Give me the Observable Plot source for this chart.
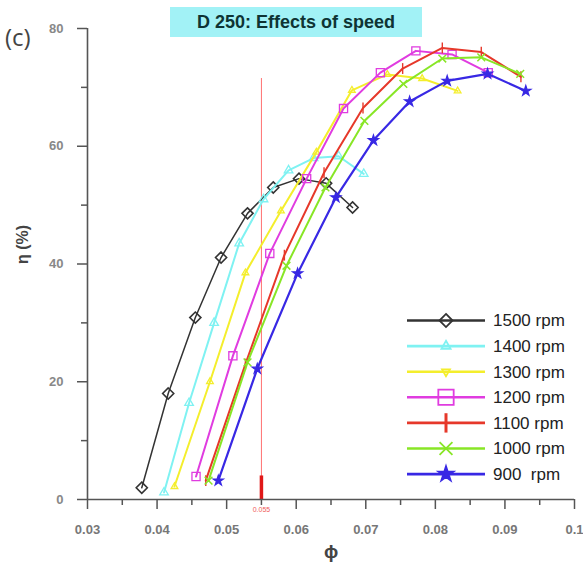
<!DOCTYPE html>
<html><head><meta charset="utf-8">
<script src="https://cdn.jsdelivr.net/npm/d3@7"></script>
<script src="https://cdn.jsdelivr.net/npm/@observablehq/plot@0.6"></script>
<style>
body{margin:0;background:#fff;font-family:Arial,"Liberation Sans",sans-serif;}
#wrap{position:relative;width:583px;height:579px;overflow:hidden;}
#title{position:absolute;left:170px;top:7px;width:252px;height:30px;background:#a2f2f6;color:#0e3434;font:bold 18px Arial,"Liberation Sans",sans-serif;line-height:30px;text-align:center;white-space:nowrap;}
#tag{position:absolute;left:5px;top:20px;font:24px "Open Sans",Arial,sans-serif;color:#444;}
#legend{position:absolute;left:0;top:0;pointer-events:none;}
</style></head>
<body><div id="wrap"><div id="chart"></div><div id="title">D 250: Effects of speed</div><div id="tag">(c)</div><svg id="legend" width="583" height="579"></svg></div>
<script>
const speeds = ["1500 rpm","1400 rpm","1300 rpm","1200 rpm","1100 rpm","1000 rpm","900  rpm"];
const colors = ["#333333","#7ff2f2","#f4ee2c","#e03ce0","#e6382a","#88e626","#3828e4"];
const symbols = ["diamond2","triangle","triangle2","square","bar","times","star"];

const phi1500 = [0.0378,0.0416,0.0455,0.0492,0.0530,0.0567,0.0604,0.0643,0.0681];
const eta1500 = [2.0,18.0,30.9,41.1,48.6,53.0,54.5,53.7,49.6];
const phi1400 = [0.0410,0.0446,0.0482,0.0518,0.0553,0.0589,0.0625,0.0661,0.0697];
const eta1400 = [1.2,16.4,30.0,43.5,51.0,55.9,58.0,58.3,55.3];
const phi1300 = [0.0425,0.0476,0.0527,0.0578,0.0629,0.0680,0.0731,0.0781,0.0832];
const eta1300 = [2.2,20.0,38.5,49.0,59.0,69.5,72.2,71.5,69.4];
const phi1200 = [0.0456,0.0509,0.0562,0.0615,0.0668,0.0721,0.0772,0.0824,0.0876];
const eta1200 = [3.9,24.4,41.8,54.5,66.4,72.5,76.2,75.6,72.5];
const phi1100 = [0.0470,0.0527,0.0583,0.0640,0.0696,0.0753,0.0810,0.0866,0.0923];
const eta1100 = [3.2,23.0,41.5,55.5,66.5,73.2,76.7,76.0,71.8];
const phi1000 = [0.0474,0.0530,0.0586,0.0642,0.0698,0.0754,0.0810,0.0866,0.0922];
const eta1000 = [3.2,23.3,39.7,53.0,64.3,70.6,74.9,75.1,72.3];
const phi900  = [0.0488,0.0544,0.0602,0.0657,0.0711,0.0763,0.0817,0.0875,0.0930];
const eta900  = [3.2,22.2,38.4,51.3,61.0,67.6,71.1,72.3,69.4];

const xTicks = [0.03,0.04,0.05,0.06,0.07,0.08,0.09,0.1];
const xMinor = [0.035,0.045,0.055,0.065,0.075,0.085,0.095];
const yTicks = [0,20,40,60,80];
const yMinor = [10,30,50,70];
const refPhi = [0.055];
const refTop = 71.5;
const refMark = 4;

const phis = [phi1500,phi1400,phi1300,phi1200,phi1100,phi1000,phi900];
const etas = [eta1500,eta1400,eta1300,eta1200,eta1100,eta1000,eta900];

const barSymbol = {draw(ctx, size){ const h = Math.sqrt(size)*0.85; ctx.moveTo(0,-h); ctx.lineTo(0,h); }};
const symOf = s => s === "bar" ? barSymbol : s;

const series = speeds.map((name,i)=>phis[i].map((p,j)=>({name, phi:p, eta:etas[i][j]})));

const marks = [];
marks.push(Plot.ruleX(refPhi, {y1:0, y2:refTop, stroke:"#ff4c4c", strokeWidth:1, strokeOpacity:0.8}));
marks.push(Plot.ruleX(refPhi, {y1:0, y2:refMark, stroke:"#e01818", strokeWidth:3.5}));
marks.push(Plot.text(refPhi, {x:d=>d, y:0, text:d=>String(d), dy:10, fontSize:7, fill:"#f05a5a"}));

const widths = [1.5,2,2,2,2,2,2.2];
const sizes = [5,3.2,3.2,4.6,3.6,3.6,3.2];
const dotW = [1.6,1.3,1.3,1.3,1.4,1.5,1.2];
series.forEach((rows,i)=>{
  marks.push(Plot.line(rows,{x:"phi",y:"eta",stroke:colors[i],strokeWidth:widths[i]}));
  const s = symbols[i];
  const filled = (s==="star");
  marks.push(Plot.dot(rows,{x:"phi",y:"eta",symbol:symOf(s),r:sizes[i],stroke:colors[i],strokeWidth:dotW[i],fill:filled?colors[i]:"none"}));
});

marks.push(Plot.ruleY([0],{x1:xTicks[0],x2:xTicks[xTicks.length-1],stroke:"#555",strokeWidth:1.6}));
marks.push(Plot.ruleX([xTicks[0]],{y1:yTicks[0],y2:yTicks[yTicks.length-1],stroke:"#555",strokeWidth:1.6}));
marks.push(Plot.axisX(xTicks,{tickSize:10,tickPadding:15,fontSize:13,fontWeight:"bold",stroke:"#555",fill:"#777",strokeWidth:1.5,tickFormat:d=>String(d),label:null}));
marks.push(Plot.axisX(xMinor,{tickSize:6,stroke:"#555",strokeWidth:1.5,tickFormat:()=>"",label:null}));
marks.push(Plot.axisY(yTicks,{tickSize:10,tickPadding:14,fontSize:13,fontWeight:"bold",stroke:"#555",fill:"#888",strokeWidth:1.5,tickFormat:d=>String(d),label:null}));
marks.push(Plot.axisY(yMinor,{tickSize:6,stroke:"#555",strokeWidth:1.5,tickFormat:()=>"",label:null}));
marks.push(Plot.text(["η (%)"],{frameAnchor:"left",dx:-65,rotate:-90,fontSize:16,fontWeight:"bold",fill:"#444"}));
marks.push(Plot.text(["ϕ"],{frameAnchor:"bottom",dy:52,lineAnchor:"middle",fontSize:19,fontWeight:"bold",fill:"#444"}));

const chart = Plot.plot({
  width:583, height:579,
  marginLeft:87, marginRight:9, marginTop:28, marginBottom:80,
  x:{domain:[0.03,0.1]}, y:{domain:[0,80]},
  style:{fontFamily:"Arial, 'Liberation Sans', sans-serif", background:"#fff"},
  marks
});
document.getElementById("chart").appendChild(chart);

const lg = d3.select("#legend");
const legTop = 320.5, legStep = 25.6;
const legSize = [110,60,45,300,130,110,70];
speeds.forEach((name,i)=>{
  const y = legTop + i*legStep;
  const g = lg.append("g");
  g.append("line").attr("x1",407).attr("x2",485).attr("y1",y).attr("y2",y).attr("stroke",colors[i]).attr("stroke-width",2.6);
  const s = symbols[i];
  let type;
  if (s==="diamond2") type=d3.symbolDiamond2; else if (s==="triangle") type=d3.symbolTriangle2; else if (s==="triangle2") type=d3.symbolTriangle2;
  else if (s==="square") type=d3.symbolSquare2; else if (s==="times") type=d3.symbolTimes; else if (s==="star") type=d3.symbolStar; else type=barSymbol;
  g.append("path").attr("d",d3.symbol(type, legSize[i])()).attr("transform",`translate(446,${y})${s==="triangle2"?" rotate(180)":""}`)
   .attr("stroke",colors[i]).attr("stroke-width",s==="bar"?3:1.8).attr("fill",s==="star"?colors[i]:"none");
  g.append("text").attr("x",493).attr("y",y).attr("dy","0.35em").attr("font-size",17).attr("fill","#222")
   .attr("font-family","Arial, 'Liberation Sans', sans-serif").attr("xml:space","preserve").style("white-space","pre").text(name);
});
</script></body></html>
